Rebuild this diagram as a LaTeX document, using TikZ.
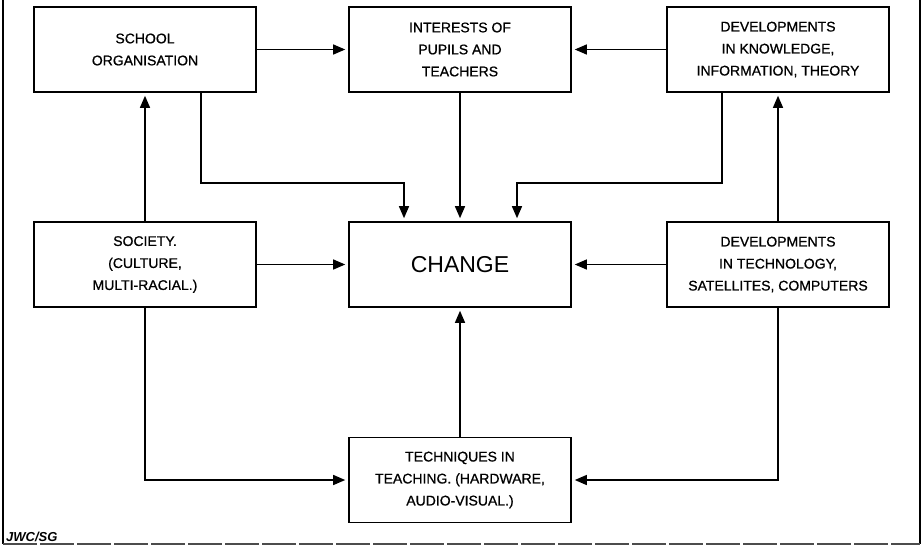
\documentclass[tikz,border=0pt]{standalone}
\usepackage{fontspec}
\setmainfont{Liberation Sans}
\usetikzlibrary{arrows.meta}
\begin{document}
\begin{tikzpicture}[x=1pt,y=-1pt,
  box/.style={draw,line width=1.6pt,minimum width=222pt,minimum height=85pt,
    align=center,inner sep=0pt,font=\fontsize{14}{22}\selectfont\addfontfeatures{FakeBold=0.8}},
  conn/.style={line width=1.3pt,-{Triangle[length=12pt,width=10pt]},shorten >=3pt},
  frameline/.style={line width=1.3pt},
  baseline/.style={line width=1.3pt,draw=black!70,dash pattern=on 34pt off 3pt}]
\useasboundingbox (0,0) rectangle (923,546);
% frame
\coordinate (ftl) at (3,0);
\coordinate (fbl) at (3,544);
\coordinate (fbr) at (920,544);
\coordinate (ftr) at (920,0);
\draw[frameline] (ftl) -- (fbl);
\draw[frameline] (ftr) -- (fbr);
\draw[baseline] (fbl) -- (fbr);
% boxes
\node[box] (school) at (145,49.5) {SCHOOL\\ORGANISATION};
\node[box] (interests) at (460,49.5) {INTERESTS OF\\PUPILS AND\\TEACHERS};
\node[box] (knowledge) at (778,49.5) {DEVELOPMENTS\\IN KNOWLEDGE,\\INFORMATION, THEORY};
\node[box] (society) at (145,264.5) {SOCIETY.\\(CULTURE,\\MULTI-RACIAL.)};
\node[box,font=\fontsize{23}{26}\selectfont] (change) at (460,264.5) {CHANGE};
\node[box] (techdev) at (778,264.5) {DEVELOPMENTS\\IN TECHNOLOGY,\\SATELLITES, COMPUTERS};
\node[box] (techniques) at (460,480) {TECHNIQUES IN\\TEACHING. (HARDWARE,\\AUDIO-VISUAL.)};
\node[anchor=base west,inner sep=0pt,font=\fontsize{13}{14}\selectfont\bfseries\itshape] (credit) at (6,541) {JWC/SG};
% bends
\coordinate (bendL) at (404,183);
\coordinate (bendR) at (517,183);
% connectors
\draw[conn] (school) -- (interests);
\draw[conn] (knowledge) -- (interests);
\draw[conn] (interests) -- (change);
\draw[conn] (society) -- (change);
\draw[conn] (techdev) -- (change);
\draw[conn] (techniques) -- (change);
\draw[conn] (society) -- (school);
\draw[conn] (techdev) -- (knowledge);
\draw[conn] ([xshift=56pt]school.south) |- (bendL) -- ([xshift=-56pt]change.north);
\draw[conn] ([xshift=-56pt]knowledge.south) |- (bendR) -- ([xshift=57pt]change.north);
\draw[conn] (society.south) |- (techniques);
\draw[conn] (techdev.south) |- (techniques);
\end{tikzpicture}
\end{document}
